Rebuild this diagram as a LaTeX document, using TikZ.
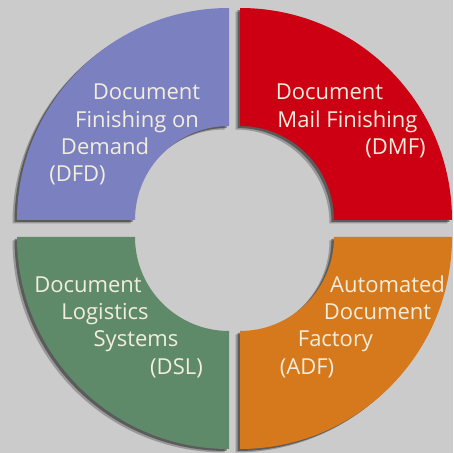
\documentclass[tikz,border=0pt]{standalone}
\usepackage{fontspec}
\setmainfont{Open Sans}
\usetikzlibrary{calc}
\definecolor{bg}{HTML}{CBCBCB}
\definecolor{cpurple}{HTML}{7B80C0}
\definecolor{cred}{HTML}{CC0012}
\definecolor{cgreen}{HTML}{5F8A69}
\definecolor{corange}{HTML}{D6781C}
\definecolor{ctext}{HTML}{F2EEDC}
\newcommand{\ringsector}[3]{%
  % #1 = centre, #2 = start angle, #3 = style
  \path[#3,shift={#1}] (#2:212) arc[start angle=#2, delta angle=90, radius=212]
    -- (#2+90:94) arc[start angle=#2+90, delta angle=-90, radius=94] -- cycle;}
\begin{document}
\begin{tikzpicture}[x=1pt,y=1pt,
  lbl/.style={anchor=base,inner sep=0pt,text=ctext,font=\fontsize{22}{26}\selectfont},
  shadowA/.style={fill=black,opacity=0.25},
  shadowB/.style={fill=black,opacity=0.4}]
\fill[bg] (0,0) rectangle (453,453);
\useasboundingbox (0,0) rectangle (453,453);
% shadows
\foreach \c/\a in {{(229,233)}/90,{(240,233)}/0,{(229,216)}/180,{(240,216)}/270}{
  \ringsector{\c}{\a}{shadowA,xshift=-4.5,yshift=-3.5}
  \ringsector{\c}{\a}{shadowB,xshift=-2.5,yshift=-2}
}
% sectors
\ringsector{(229,233)}{90}{fill=cpurple}
\ringsector{(240,233)}{0}{fill=cred}
\ringsector{(229,216)}{180}{fill=cgreen}
\ringsector{(240,216)}{270}{fill=corange}
% labels: DFD
\node[lbl] (p1) at (146.5,353) {Document};
\node[lbl] (p2) at (137,325.5) {Finishing on};
\node[lbl] (p3) at (105,298) {Demand};
\node[lbl] (p4) at (77.5,271) {(DFD)};
% DMF
\node[lbl] (r1) at (329.5,353) {Document};
\node[lbl] (r2) at (347.5,325.5) {Mail Finishing};
\node[lbl] (r3) at (395.5,298) {(DMF)};
% DSL
\node[lbl] (g1) at (88,160) {Document};
\node[lbl] (g2) at (105,133) {Logistics};
\node[lbl] (g3) at (136,106) {Systems};
\node[lbl] (g4) at (176.5,78) {(DSL)};
% ADF
\node[lbl] (o1) at (387.5,160) {Automated};
\node[lbl] (o2) at (377.5,133) {Document};
\node[lbl] (o3) at (335.5,106) {Factory};
\node[lbl] (o4) at (307,78) {(ADF)};
\end{tikzpicture}
\end{document}
